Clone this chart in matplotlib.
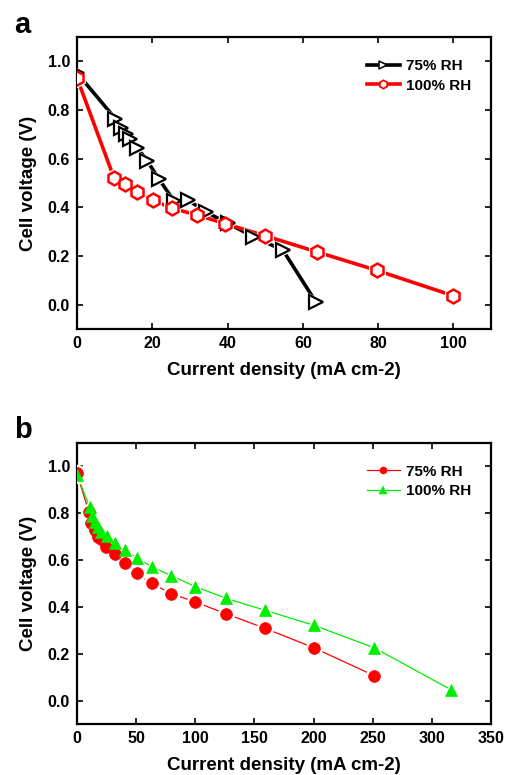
import matplotlib
matplotlib.use('Agg')
import matplotlib.pyplot as plt

plt.rcParams.update({
    'font.family': ['Liberation Sans', 'DejaVu Sans'],
    'font.weight': 'bold',
    'axes.labelweight': 'bold',
    'axes.linewidth': 1.6,
    'xtick.direction': 'in',
    'ytick.direction': 'in',
    'xtick.top': True,
    'ytick.right': True,
    'xtick.major.size': 4,
    'ytick.major.size': 4,
    'xtick.major.width': 1.2,
    'ytick.major.width': 1.2,
    'xtick.labelsize': 11.5,
    'ytick.labelsize': 11.5,
})

# Panel a: current density (mA cm-2) and cell voltage (V)
cd_a_75 = [0, 10.2, 11.6, 12.9, 14.2, 16.0, 18.7, 21.8, 25.8, 29.6, 34.2, 40.0, 46.7, 54.7, 63.5]
v_a_75 = [0.952, 0.764, 0.727, 0.700, 0.679, 0.645, 0.590, 0.515, 0.426, 0.429, 0.381, 0.335, 0.280, 0.224, 0.010]
cd_a_100 = [0, 9.8, 12.7, 16.0, 20.2, 25.2, 31.8, 39.3, 50.0, 63.7, 79.6, 99.9]
v_a_100 = [0.932, 0.522, 0.495, 0.463, 0.429, 0.396, 0.369, 0.333, 0.283, 0.217, 0.141, 0.037]

# Panel b
cd_b_75 = [0, 10, 12, 14.9, 17.7, 20.5, 24.7, 31.7, 40.2, 50.6, 63.2, 79.5, 100, 125.8, 158.7, 200, 251]
v_b_75 = [0.97, 0.805, 0.76, 0.73, 0.70, 0.69, 0.654, 0.626, 0.587, 0.543, 0.50, 0.457, 0.421, 0.371, 0.309, 0.226, 0.107]
cd_b_100 = [0, 10.7, 12.6, 14.9, 17.7, 20.5, 25.3, 31.7, 40.7, 50.6, 63.5, 79.8, 100, 125.8, 158.7, 200, 251, 316]
v_b_100 = [0.965, 0.826, 0.787, 0.761, 0.74, 0.719, 0.704, 0.673, 0.643, 0.609, 0.571, 0.533, 0.487, 0.437, 0.386, 0.322, 0.226, 0.047]

labels = ['75% RH', '100% RH']
xlabel = 'Current density (mA cm-2)'
ylabel = 'Cell voltage (V)'

fig = plt.figure(figsize=(5.11, 7.75), dpi=100)
ax_a = fig.add_axes([0.1507, 0.5755, 0.8102, 0.3768])
ax_b = fig.add_axes([0.1507, 0.0658, 0.8102, 0.3626])


def gapped(ax, x, y, color, marker, ms, mew, lw, face, label):
    # line, then a white halo marker to open gaps, then the real marker
    ax.plot(x, y, '-', color=color, linewidth=lw, zorder=2)
    ax.plot(x, y, linestyle='none', marker=marker, markersize=ms + 3,
            markerfacecolor='white', markeredgecolor='white', zorder=3)
    ax.plot(x, y, linestyle='none', marker=marker, markersize=ms,
            markerfacecolor=face, markeredgecolor=color, markeredgewidth=mew, zorder=4)
    # legend proxy
    ax.plot([], [], '-', color=color, linewidth=lw, marker=marker,
            markersize=ms * 0.6, markerfacecolor=face, markeredgecolor=color,
            markeredgewidth=mew * 0.7, label=label)


gapped(ax_a, cd_a_75, v_a_75, 'black', '>', 9.5, 1.6, 2.6, 'white', labels[0])
gapped(ax_a, cd_a_100, v_a_100, '#ff0000', 'h', 10, 1.8, 2.6, 'white', labels[1])

gapped(ax_b, cd_b_75, v_b_75, '#ff0000', 'o', 8.5, 0.5, 0.9, '#ff0000', labels[0])
gapped(ax_b, cd_b_100, v_b_100, '#00ee00', '^', 9, 0.5, 0.9, '#00ee00', labels[1])

ax_a.set_xlim(0, 110)
ax_a.set_xticks([0, 20, 40, 60, 80, 100])
ax_b.set_xlim(0, 350)
ax_b.set_xticks([0, 50, 100, 150, 200, 250, 300, 350])

for ax in (ax_a, ax_b):
    ax.set_ylim(-0.1, 1.1)
    ax.set_yticks([0.0, 0.2, 0.4, 0.6, 0.8, 1.0])
    ax.set_yticklabels(['0.0', '0.2', '0.4', '0.6', '0.8', '1.0'])
    ax.set_xlabel(xlabel, fontsize=13.5, labelpad=8)
    ax.set_ylabel(ylabel, fontsize=13.5, labelpad=8)
    ax.tick_params(axis='both', pad=5)
    for lab in ax.get_xticklabels() + ax.get_yticklabels():
        lab.set_fontweight('bold')
    ax.legend(loc='upper right', bbox_to_anchor=(0.975, 0.955), frameon=False,
              handlelength=2.2, handletextpad=0.4,
              borderaxespad=0.2, labelspacing=0.35, numpoints=1,
              prop={'weight': 'bold', 'size': 11})

fig.text(0.028, 0.958, 'a', fontsize=21, fontweight='bold')
fig.text(0.028, 0.435, 'b', fontsize=21, fontweight='bold')

fig.savefig('out.png', dpi=100)
